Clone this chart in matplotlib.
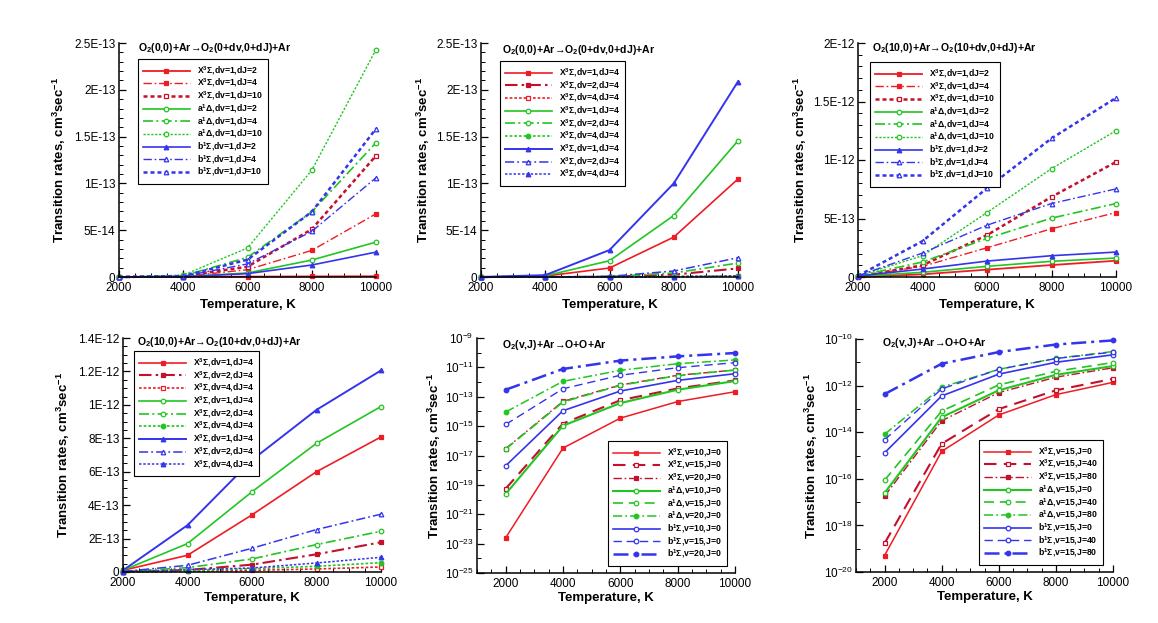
import matplotlib
matplotlib.use('Agg')
import matplotlib.pyplot as plt
from matplotlib.ticker import FixedLocator, FixedFormatter, MultipleLocator, NullFormatter, LogFormatterSciNotation

plt.rcParams['font.family'] = ['Liberation Sans', 'DejaVu Sans']
plt.rcParams['mathtext.fontset'] = 'custom'
plt.rcParams['mathtext.rm'] = 'Liberation Sans:bold'
plt.rcParams['mathtext.it'] = 'Liberation Sans:italic:bold'
plt.rcParams['mathtext.bf'] = 'Liberation Sans:bold'

# ---------------- data ----------------
temperature = [2000, 4000, 6000, 8000, 10000]

# Panel 1: O2(0,0)+Ar -> O2(0+dv,0+dJ)+Ar
p1_X_dJ2 = [0, 1e-16, 4e-16, 6e-16, 8e-16]
p1_X_dJ4 = [0, 5e-16, 7.8e-15, 2.84e-14, 6.75e-14]
p1_X_dJ10 = [0, 8e-16, 1.1e-14, 5.1e-14, 1.296e-13]
p1_a_dJ2 = [0, 3e-16, 4.3e-15, 1.81e-14, 3.73e-14]
p1_a_dJ4 = [0, 1.2e-15, 2.1e-14, 6.96e-14, 1.435e-13]
p1_a_dJ10 = [0, 2e-15, 3.1e-14, 1.14e-13, 2.43e-13]
p1_b_dJ2 = [0, 3e-16, 3.6e-15, 1.28e-14, 2.66e-14]
p1_b_dJ4 = [0, 8e-16, 1.4e-14, 4.87e-14, 1.06e-13]
p1_b_dJ10 = [0, 1e-15, 1.85e-14, 6.96e-14, 1.584e-13]
p1_labels = ['X$^3$Σ,dv=1,dJ=2', 'X$^3$Σ,dv=1,dJ=4', 'X$^3$Σ,dv=1,dJ=10',
             'a$^1$Δ,dv=1,dJ=2', 'a$^1$Δ,dv=1,dJ=4', 'a$^1$Δ,dv=1,dJ=10',
             'b$^1$Σ,dv=1,dJ=2', 'b$^1$Σ,dv=1,dJ=4', 'b$^1$Σ,dv=1,dJ=10']

# Panel 2: O2(0,0)+Ar -> O2(0+dv,0+dJ)+Ar, dv variation
p2_r_dv1 = [0, 1e-15, 9.6e-15, 4.26e-14, 1.047e-13]
p2_r_dv2 = [0, 0, 3e-16, 2.5e-15, 9.2e-15]
p2_r_dv4 = [0, 0, 0, 3e-16, 8e-16]
p2_g_dv1 = [0, 1.2e-15, 1.74e-14, 6.57e-14, 1.456e-13]
p2_g_dv2 = [0, 0, 5e-16, 4.3e-15, 1.49e-14]
p2_g_dv4 = [0, 0, 0, 4e-16, 1e-15]
p2_b_dv1 = [0, 2e-15, 2.88e-14, 1.0e-13, 2.088e-13]
p2_b_dv2 = [0, 0, 7e-16, 6.4e-15, 2.06e-14]
p2_b_dv4 = [0, 0, 0, 5e-16, 1.2e-15]
p2_labels = ['X$^3$Σ,dv=1,dJ=4', 'X$^3$Σ,dv=2,dJ=4', 'X$^3$Σ,dv=4,dJ=4'] * 3

# Panel 3: O2(10,0)+Ar -> O2(10+dv,0+dJ)+Ar
p3_X_dJ2 = [0, 2.3e-14, 6.3e-14, 1.02e-13, 1.39e-13]
p3_X_dJ4 = [5e-15, 9.1e-14, 2.5e-13, 4.12e-13, 5.51e-13]
p3_X_dJ10 = [3e-15, 1.0e-13, 3.58e-13, 6.85e-13, 9.83e-13]
p3_a_dJ2 = [5e-15, 4.0e-14, 9.1e-14, 1.34e-13, 1.62e-13]
p3_a_dJ4 = [8e-15, 1.28e-13, 3.3e-13, 5.03e-13, 6.28e-13]
p3_a_dJ10 = [8e-15, 1.82e-13, 5.51e-13, 9.26e-13, 1.25e-12]
p3_b_dJ2 = [8e-15, 6.8e-14, 1.36e-13, 1.82e-13, 2.13e-13]
p3_b_dJ4 = [1e-14, 2.05e-13, 4.43e-13, 6.28e-13, 7.53e-13]
p3_b_dJ10 = [1e-14, 3.07e-13, 7.59e-13, 1.185e-12, 1.531e-12]
p3_labels = p1_labels

# Panel 4: O2(10,0)+Ar -> O2(10+dv,0+dJ)+Ar, dv variation
p4_r_dv1 = [1e-14, 1.0e-13, 3.42e-13, 6.0e-13, 8.08e-13]
p4_r_dv2 = [2e-15, 1.2e-14, 4.4e-14, 1.06e-13, 1.78e-13]
p4_r_dv4 = [0, 3e-15, 1e-14, 1.8e-14, 3e-14]
p4_g_dv1 = [1e-14, 1.7e-13, 4.8e-13, 7.7e-13, 9.9e-13]
p4_g_dv2 = [2e-15, 2.6e-14, 7.8e-14, 1.64e-13, 2.44e-13]
p4_g_dv4 = [0, 8e-15, 2e-14, 3.4e-14, 5.6e-14]
p4_b_dv1 = [1e-14, 2.8e-13, 6.7e-13, 9.7e-13, 1.206e-12]
p4_b_dv2 = [3e-15, 4e-14, 1.42e-13, 2.54e-13, 3.46e-13]
p4_b_dv4 = [1e-15, 1.4e-14, 2.4e-14, 5.4e-14, 8.8e-14]
p4_labels = p2_labels

# Panel 5: O2(v,J)+Ar -> O+O+Ar, v variation
p5_X_v10 = [2.5e-23, 3.2e-17, 3.5e-15, 4.7e-14, 2.2e-13]
p5_X_v15 = [5.5e-20, 1.5e-15, 5.8e-14, 3.7e-13, 1.3e-12]
p5_X_v20 = [2.9e-17, 4.9e-14, 6.3e-13, 2.9e-12, 6.6e-12]
p5_a_v10 = [2.4e-20, 1.07e-15, 3.7e-14, 3.0e-13, 1.17e-12]
p5_a_v15 = [2.75e-17, 4.4e-14, 6.0e-13, 2.75e-12, 6.6e-12]
p5_a_v20 = [9.1e-15, 1.12e-12, 6.3e-12, 1.78e-11, 3.2e-11]
p5_b_v10 = [2.0e-18, 1.12e-14, 2.45e-13, 1.3e-12, 3.7e-12]
p5_b_v15 = [1.3e-15, 3.5e-13, 2.9e-12, 9.5e-12, 2.1e-11]
p5_b_v20 = [3.0e-13, 7.8e-12, 2.9e-11, 5.6e-11, 9.5e-11]
p5_labels = ['X$^3$Σ,v=10,J=0', 'X$^3$Σ,v=15,J=0', 'X$^3$Σ,v=20,J=0',
             'a$^1$Δ,v=10,J=0', 'a$^1$Δ,v=15,J=0', 'a$^1$Δ,v=20,J=0',
             'b$^1$Σ,v=10,J=0', 'b$^1$Σ,v=15,J=0', 'b$^1$Σ,v=20,J=0']

# Panel 6: O2(v,J)+Ar -> O+O+Ar, J variation
p6_X_J0 = [5.1e-20, 1.5e-15, 5.5e-14, 4.1e-13, 1.38e-12]
p6_X_J40 = [1.7e-19, 3.2e-15, 9.8e-14, 6.3e-13, 1.95e-12]
p6_X_J80 = [1.8e-17, 3.1e-14, 5.0e-13, 2.3e-12, 5.8e-12]
p6_a_J0 = [2.45e-17, 4.4e-14, 6.3e-13, 2.9e-12, 6.9e-12]
p6_a_J40 = [8.7e-17, 8.1e-14, 1.07e-12, 4.1e-12, 9.8e-12]
p6_a_J80 = [8.1e-15, 8.5e-13, 5.0e-12, 1.48e-11, 2.9e-11]
p6_b_J0 = [1.3e-15, 3.6e-13, 3.1e-12, 1.0e-11, 2.1e-11]
p6_b_J40 = [4.7e-15, 7.2e-13, 5.0e-12, 1.45e-11, 2.75e-11]
p6_b_J80 = [4.3e-13, 8.7e-12, 2.75e-11, 5.8e-11, 8.7e-11]
p6_labels = ['X$^3$Σ,v=15,J=0', 'X$^3$Σ,v=15,J=40', 'X$^3$Σ,v=15,J=80',
             'a$^1$Δ,v=15,J=0', 'a$^1$Δ,v=15,J=40', 'a$^1$Δ,v=15,J=80',
             'b$^1$Σ,v=15,J=0', 'b$^1$Σ,v=15,J=40', 'b$^1$Σ,v=15,J=80']

temp_ticks = [2000, 4000, 6000, 8000, 10000]
temp_ticklabels = ['2000', '4000', '6000', '8000', '10000']
p1_yticks = [0, 5e-14, 1e-13, 1.5e-13, 2e-13, 2.5e-13]
p1_yticklabels = ['0', '5E-14', '1E-13', '1.5E-13', '2E-13', '2.5E-13']
p3_yticks = [0, 5e-13, 1e-12, 1.5e-12, 2e-12]
p3_yticklabels = ['0', '5E-13', '1E-12', '1.5E-12', '2E-12']
p4_yticks = [0, 2e-13, 4e-13, 6e-13, 8e-13, 1e-12, 1.2e-12, 1.4e-12]
p4_yticklabels = ['0', '2E-13', '4E-13', '6E-13', '8E-13', '1E-12', '1.2E-12', '1.4E-12']
p5_yticks = [1e-25, 1e-23, 1e-21, 1e-19, 1e-17, 1e-15, 1e-13, 1e-11, 1e-9]
p6_yticks = [1e-20, 1e-18, 1e-16, 1e-14, 1e-12, 1e-10]

title_dv0 = 'O$_2$(0,0)+Ar→O$_2$(0+dv,0+dJ)+Ar'
title_dv10 = 'O$_2$(10,0)+Ar→O$_2$(10+dv,0+dJ)+Ar'
title_diss = 'O$_2$(v,J)+Ar→O+O+Ar'
ylabel_text = 'Transition rates, cm$^3$sec$^{-1}$'
xlabel_text = 'Temperature, K'

# ---------------- styles ----------------
RED = '#ee1c24'
DRED = '#c4102c'
GREEN = '#22c522'
BLUE = '#3434ec'
DOT = (0, (1.6, 1.2))
DDOT = (0, (6, 2, 1.2, 2))
DASH = (0, (6, 3.5))

# (color, linestyle, lw, marker, filled)
sty_dJ = [(RED, '-', 1.3, 's', True), (RED, DDOT, 1.0, 's', True), (DRED, DOT, 1.8, 's', False),
          (GREEN, '-', 1.2, 'o', False), (GREEN, DDOT, 1.2, 'o', False), (GREEN, DOT, 1.0, 'o', False),
          (BLUE, '-', 1.2, '^', True), (BLUE, DDOT, 1.0, '^', False), (BLUE, DOT, 1.8, '^', False)]
sty_dv = [(RED, '-', 1.2, 's', True), (DRED, DDOT, 1.5, 's', True), (RED, DOT, 1.2, 's', False),
          (GREEN, '-', 1.2, 'o', False), (GREEN, DDOT, 1.2, 'o', False), (GREEN, DOT, 1.2, 'o', True),
          (BLUE, '-', 1.4, '^', True), (BLUE, DDOT, 1.1, '^', False), (BLUE, DOT, 1.1, '^', True)]
sty_log = [(RED, '-', 1.1, 's', True), (DRED, DASH, 1.5, 's', False), (DRED, DDOT, 1.0, 's', True),
           (GREEN, '-', 1.5, 'o', False), (GREEN, DASH, 1.2, 'o', False), (GREEN, DDOT, 1.1, 'o', True),
           (BLUE, '-', 1.2, 'o', False), (BLUE, DASH, 1.0, 'o', False), (BLUE, DDOT, 1.8, 'o', True)]

W, H = 1158, 623
fig = plt.figure(figsize=(W / 100, H / 100), dpi=100)


def make_axes(l, t, r, b):
    return fig.add_axes([l / W, 1 - b / H, (r - l) / W, (b - t) / H])


def style_axes(ax):
    for s in ['top', 'right']:
        ax.spines[s].set_visible(False)
    for s in ['left', 'bottom']:
        ax.spines[s].set_linewidth(1.1)
    ax.tick_params(which='both', direction='in', top=False, right=False, labelsize=8.5)
    ax.tick_params(axis='y', which='major', length=5, width=0.9, pad=2.5)
    ax.tick_params(axis='x', which='major', length=5, width=0.9, pad=3.5)
    ax.tick_params(which='minor', length=2.8, width=0.7)
    ax.xaxis.set_major_locator(FixedLocator(temp_ticks))
    ax.xaxis.set_major_formatter(FixedFormatter(temp_ticklabels))
    ax.xaxis.set_minor_locator(MultipleLocator(500))


def plot_series(ax, series, styles, labels):
    for y, (c, ls, lw, mk, filled), lab in zip(series, styles, labels):
        ax.plot(temperature, y, color=c, linestyle=ls, lw=lw, marker=mk, markersize=3.3,
                markerfacecolor=c if filled else 'white', markeredgecolor=c, markeredgewidth=0.9,
                label=lab, clip_on=False)


def add_legend(ax, x0, y1):
    leg = ax.legend(loc='upper left', bbox_to_anchor=(x0, y1), borderaxespad=0,
                    prop={'size': 6.2, 'weight': 'bold'}, frameon=True, fancybox=False,
                    edgecolor='black', framealpha=1, handlelength=5.4, handletextpad=0.8,
                    handleheight=0.5, labelspacing=0.0, borderpad=0.6, numpoints=1)
    leg.get_frame().set_linewidth(0.8)
    leg.set_zorder(5)


def labels(ax, title, tx, ty, ylx, xly):
    ax.text(tx, ty, title, transform=ax.transAxes, fontsize=7.6, fontweight='bold',
            ha='left', va='center')
    ax.set_ylabel(ylabel_text, fontsize=9.5, fontweight='bold')
    ax.set_xlabel(xlabel_text, fontsize=9.5, fontweight='bold')
    ax.yaxis.set_label_coords(ylx, 0.5)
    ax.xaxis.set_label_coords(0.5, xly)


# Panel 1
ax1 = make_axes(119, 43, 376, 277)
style_axes(ax1)
plot_series(ax1, [p1_X_dJ2, p1_X_dJ4, p1_X_dJ10, p1_a_dJ2, p1_a_dJ4, p1_a_dJ10,
                  p1_b_dJ2, p1_b_dJ4, p1_b_dJ10], sty_dJ, p1_labels)
ax1.set_xlim(2000, 10000)
ax1.set_ylim(0, 2.5e-13)
ax1.yaxis.set_major_locator(FixedLocator(p1_yticks))
ax1.yaxis.set_major_formatter(FixedFormatter(p1_yticklabels))
ax1.yaxis.set_minor_locator(MultipleLocator(1e-14))
add_legend(ax1, 0.074, 0.932)
labels(ax1, title_dv0, 0.074, 0.979, -0.2, -0.095)

# Panel 2
ax2 = make_axes(481, 43, 738, 277)
style_axes(ax2)
plot_series(ax2, [p2_r_dv1, p2_r_dv2, p2_r_dv4, p2_g_dv1, p2_g_dv2, p2_g_dv4,
                  p2_b_dv1, p2_b_dv2, p2_b_dv4], sty_dv, p2_labels)
ax2.set_xlim(2000, 10000)
ax2.set_ylim(0, 2.5e-13)
ax2.yaxis.set_major_locator(FixedLocator(p1_yticks))
ax2.yaxis.set_major_formatter(FixedFormatter(p1_yticklabels))
ax2.yaxis.set_minor_locator(MultipleLocator(1e-14))
add_legend(ax2, 0.074, 0.923)
labels(ax2, title_dv0, 0.082, 0.97, -0.19, -0.095)

# Panel 3
ax3 = make_axes(858, 43, 1116, 277)
style_axes(ax3)
plot_series(ax3, [p3_X_dJ2, p3_X_dJ4, p3_X_dJ10, p3_a_dJ2, p3_a_dJ4, p3_a_dJ10,
                  p3_b_dJ2, p3_b_dJ4, p3_b_dJ10], sty_dJ, p3_labels)
ax3.set_xlim(2000, 10000)
ax3.set_ylim(0, 2e-12)
ax3.yaxis.set_major_locator(FixedLocator(p3_yticks))
ax3.yaxis.set_major_formatter(FixedFormatter(p3_yticklabels))
ax3.yaxis.set_minor_locator(MultipleLocator(1e-13))
add_legend(ax3, 0.047, 0.919)
labels(ax3, title_dv10, 0.054, 0.979, -0.19, -0.095)

# Panel 4
ax4 = make_axes(123, 338, 381, 572)
style_axes(ax4)
plot_series(ax4, [p4_r_dv1, p4_r_dv2, p4_r_dv4, p4_g_dv1, p4_g_dv2, p4_g_dv4,
                  p4_b_dv1, p4_b_dv2, p4_b_dv4], sty_dv, p4_labels)
ax4.set_xlim(2000, 10000)
ax4.set_ylim(0, 1.4e-12)
ax4.yaxis.set_major_locator(FixedLocator(p4_yticks))
ax4.yaxis.set_major_formatter(FixedFormatter(p4_yticklabels))
ax4.yaxis.set_minor_locator(MultipleLocator(5e-14))
add_legend(ax4, 0.043, 0.944)
labels(ax4, title_dv10, 0.054, 0.983, -0.198, -0.085)

# Panel 5
ax5 = make_axes(477, 338, 735, 573)
style_axes(ax5)
ax5.set_yscale('log')
plot_series(ax5, [p5_X_v10, p5_X_v15, p5_X_v20, p5_a_v10, p5_a_v15, p5_a_v20,
                  p5_b_v10, p5_b_v15, p5_b_v20], sty_log, p5_labels)
ax5.set_xlim(1000, 10000)
ax5.set_ylim(1e-25, 1e-9)
ax5.yaxis.set_major_locator(FixedLocator(p5_yticks))
ax5.yaxis.set_major_formatter(LogFormatterSciNotation())
ax5.yaxis.set_minor_locator(FixedLocator([10.0 ** e for e in range(-24, -9, 2)]))
ax5.yaxis.set_minor_formatter(NullFormatter())
add_legend(ax5, 0.508, 0.562)
labels(ax5, title_diss, 0.097, 0.97, -0.132, -0.08)

# Panel 6
ax6 = make_axes(856, 339, 1113, 572)
style_axes(ax6)
ax6.set_yscale('log')
plot_series(ax6, [p6_X_J0, p6_X_J40, p6_X_J80, p6_a_J0, p6_a_J40, p6_a_J80,
                  p6_b_J0, p6_b_J40, p6_b_J80], sty_log, p6_labels)
ax6.set_xlim(1000, 10000)
ax6.set_ylim(1e-20, 1e-10)
ax6.yaxis.set_major_locator(FixedLocator(p6_yticks))
ax6.yaxis.set_major_formatter(LogFormatterSciNotation())
ax6.yaxis.set_minor_locator(FixedLocator([10.0 ** e for e in range(-19, -10, 2)]))
ax6.yaxis.set_minor_formatter(NullFormatter())
add_legend(ax6, 0.479, 0.567)
labels(ax6, title_diss, 0.101, 0.983, -0.14, -0.08)

fig.savefig('out.png', dpi=100, facecolor='white')
